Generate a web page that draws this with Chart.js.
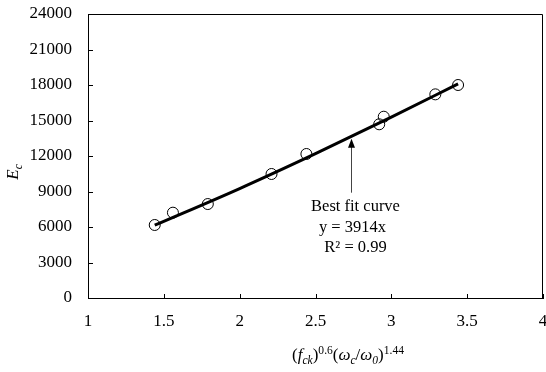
<!DOCTYPE html>
<html>
<head>
<meta charset="utf-8">
<script src="https://cdn.jsdelivr.net/npm/chart.js@4.4.0/dist/chart.umd.min.js"></script>
<style>
  body { margin: 0; background: #fff; }
  #wrap { width: 546px; height: 372px; position: relative; }
</style>
</head>
<body>
<div id="wrap"><canvas id="chart"></canvas></div>
<script>
// measured points
var measX = [1.44, 1.56, 1.79, 2.21, 2.44, 2.92, 2.95, 3.29, 3.44];
var measY = [6170, 7210, 7940, 10480, 12170, 14680, 15320, 17210, 18000];

// best fit curve
var fitX = [1.44, 2.0, 2.5, 3.0, 3.44];
var fitY = [6150, 9250, 12200, 15280, 18100];

var xTickStep = 0.5;
var yTickStep = 3000;

var noteLines = ['Best fit curve', 'y = 3914x', 'R\u00b2 = 0.99'];
var arrowAt = { x: 2.735, yTip: 13450, yTail: 8900 };

var serif = "'Liberation Serif', 'Times New Roman', serif";

function toPoints(xs, ys) {
    var out = [];
    for (var i = 0; i < xs.length; i++) out.push({ x: xs[i], y: ys[i] });
    return out;
}

// draws a string made of parts: {t, it, pos: 'sub'|'sup'}
function richWidth(ctx, parts, size) {
    var w = 0;
    parts.forEach(function (p) {
        var s = p.pos ? size * 0.68 : size;
        ctx.font = (p.it ? 'italic ' : '') + s + 'px ' + serif;
        w += ctx.measureText(p.t).width;
    });
    return w;
}
function drawRich(ctx, parts, x, y, size) {
    parts.forEach(function (p) {
        var s = p.pos ? size * 0.68 : size;
        var dy = p.pos === 'sub' ? size * 0.25 : (p.pos === 'sup' ? -size * 0.38 : 0);
        ctx.font = (p.it ? 'italic ' : '') + s + 'px ' + serif;
        ctx.fillText(p.t, x, y + dy);
        x += ctx.measureText(p.t).width;
    });
}

var decorations = {
    id: 'decorations',
    afterDraw: function (chart) {
        var ctx = chart.ctx, a = chart.chartArea;
        var xs = chart.scales.x, ys = chart.scales.y;
        ctx.save();
        // box
        ctx.strokeStyle = '#000';
        ctx.lineWidth = 1;
        ctx.beginPath();
        ctx.moveTo(a.left, a.top + 0.5);
        ctx.lineTo(a.right - 0.5, a.top + 0.5);
        ctx.lineTo(a.right - 0.5, a.bottom);
        ctx.stroke();
        // inward tick marks
        ctx.beginPath();
        xs.ticks.forEach(function (t) {
            var px = Math.round(xs.getPixelForValue(t.value)) + 0.5;
            ctx.moveTo(px, a.bottom);
            ctx.lineTo(px, a.bottom - 4);
        });
        ys.ticks.forEach(function (t) {
            var py = Math.round(ys.getPixelForValue(t.value)) + 0.5;
            ctx.moveTo(a.left, py);
            ctx.lineTo(a.left + 5, py);
        });
        ctx.stroke();

        // arrow
        var ax = Math.round(xs.getPixelForValue(arrowAt.x)) + 0.5;
        var tip = ys.getPixelForValue(arrowAt.yTip);
        var tail = ys.getPixelForValue(arrowAt.yTail);
        ctx.strokeStyle = '#444';
        ctx.fillStyle = '#000';
        ctx.beginPath();
        ctx.moveTo(ax, tail);
        ctx.lineTo(ax, tip + 6);
        ctx.stroke();
        ctx.beginPath();
        ctx.moveTo(ax, tip);
        ctx.lineTo(ax - 3.5, tip + 9);
        ctx.lineTo(ax + 3.5, tip + 9);
        ctx.closePath();
        ctx.fill();

        // note text
        ctx.fillStyle = '#000';
        ctx.textAlign = 'center';
        ctx.textBaseline = 'middle';
        ctx.font = '16.5px ' + serif;
        ctx.fillText(noteLines[0], ax + 4, tail + 14);
        ctx.fillText(noteLines[1], ax + 1, tail + 35);
        ctx.fillText(noteLines[2], ax + 4, tail + 55);

        // x title
        var xt = [
            { t: '(' }, { t: 'f', it: true }, { t: 'ck', it: true, pos: 'sub' }, { t: ')' },
            { t: '0.6', pos: 'sup' }, { t: '(' }, { t: '\u03c9', it: true }, { t: 'c', it: true, pos: 'sub' },
            { t: '/' }, { t: '\u03c9', it: true }, { t: '0', it: true, pos: 'sub' }, { t: ')' },
            { t: '1.44', pos: 'sup' }
        ];
        ctx.textAlign = 'left';
        ctx.textBaseline = 'alphabetic';
        var w = richWidth(ctx, xt, 17);
        drawRich(ctx, xt, 348 - w / 2, 360, 17);

        // y title
        ctx.translate(18, 172);
        ctx.rotate(-Math.PI / 2);
        var yt = [{ t: 'E', it: true }, { t: 'c', it: true, pos: 'sub' }];
        var wy = richWidth(ctx, yt, 17);
        drawRich(ctx, yt, -wy / 2, 0, 17);
        ctx.restore();
    }
};

new Chart(document.getElementById('chart'), {
    type: 'scatter',
    data: {
        datasets: [
            {
                type: 'line',
                label: 'Best fit',
                data: toPoints(fitX, fitY),
                borderColor: '#000',
                borderWidth: 3,
                pointRadius: 0,
                cubicInterpolationMode: 'monotone',
                fill: false
            },
            {
                label: 'Measured',
                data: toPoints(measX, measY),
                pointStyle: 'circle',
                pointRadius: 5.5,
                pointBorderWidth: 1,
                pointBorderColor: '#000',
                pointBackgroundColor: 'rgba(0,0,0,0)'
            }
        ]
    },
    options: {
        responsive: true,
        maintainAspectRatio: false,
        animation: false,
        layout: { autoPadding: false, padding: { left: 0, top: 14, right: 3, bottom: 0 } },
        plugins: { legend: { display: false }, tooltip: { enabled: false } },
        scales: {
            x: {
                type: 'linear',
                min: 1, max: 4,
                grid: { display: false, drawTicks: false },
                border: { display: true, color: '#000', width: 1 },
                ticks: {
                    stepSize: xTickStep, padding: 13, color: '#000', font: { family: serif, size: 17 },
                    callback: function (v) { return String(v); }
                },
                afterFit: function (s) {
                    s.height = 74;
                    s.paddingLeft = 0; s.paddingRight = 0;
                }
            },
            y: {
                min: 0, max: 24000,
                grid: { display: false, drawTicks: false },
                border: { display: true, color: '#000', width: 1 },
                ticks: {
                    stepSize: yTickStep, padding: 16, color: '#000', font: { family: serif, size: 17 },
                    callback: function (v) { return String(v); }
                },
                afterFit: function (s) {
                    s.width = 88;
                    s.paddingTop = 0; s.paddingBottom = 0;
                }
            }
        }
    },
    plugins: [decorations]
});
</script>
</body>
</html>
